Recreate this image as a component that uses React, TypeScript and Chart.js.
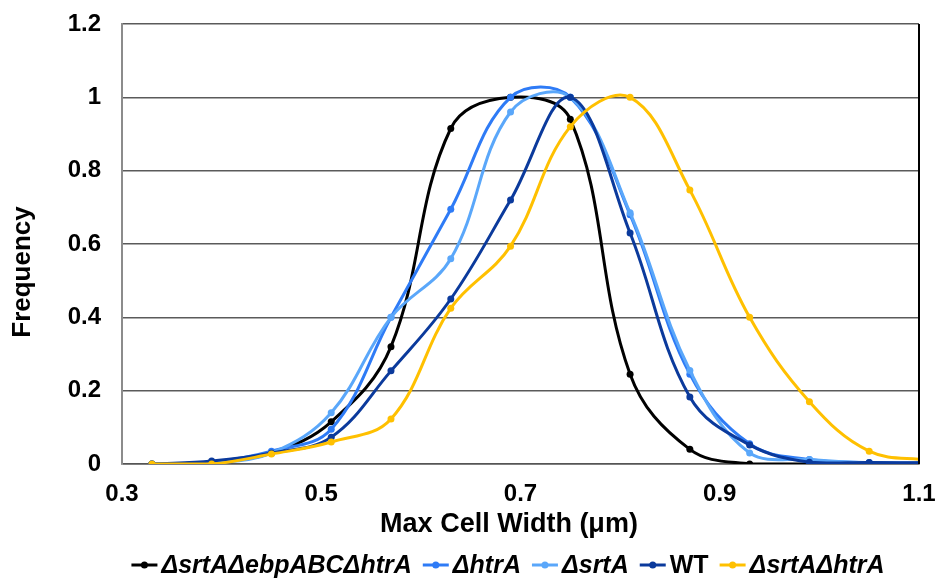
import React, { useEffect, useRef } from "react";
import { Chart, registerables } from "chart.js";

Chart.register(...registerables);

const xValues = [0.33, 0.39, 0.45, 0.51, 0.57, 0.63, 0.69, 0.75, 0.81, 0.87, 0.93, 0.99, 1.05, 1.11];
const xTicks = [0.3, 0.5, 0.7, 0.9, 1.1];
const yTicks = [0, 0.2, 0.4, 0.6, 0.8, 1, 1.2];

const xTitle = "Max Cell Width (μm)";
const yTitle = "Frequency";

const seriesNames = ["ΔsrtAΔebpABCΔhtrA", "ΔhtrA", "ΔsrtA", "WT", "ΔsrtAΔhtrA"];
const seriesColors = ["#000000", "#2E7BF6", "#5AA7FA", "#0B3A9C", "#FFC000"];
const seriesItalic = [true, true, true, false, true];

const tripleMutant = [0, 0.005, 0.03, 0.115, 0.32, 0.915, 1.0, 0.94, 0.245, 0.04, 0.0, 0.0];
const htrA = [0, 0.005, 0.035, 0.095, 0.4, 0.695, 1.0, 1.0, 0.68, 0.245, 0.055, 0.012, 0.004, 0.003];
const srtA = [0, 0.003, 0.03, 0.14, 0.4, 0.56, 0.96, 1.0, 0.685, 0.255, 0.03, 0.012, 0.003, 0.002];
const wt = [0, 0.008, 0.03, 0.073, 0.254, 0.45, 0.72, 1.0, 0.63, 0.183, 0.052, 0.005, 0.004, 0.003];
const srtAhtrA = [0, 0, 0.027, 0.06, 0.123, 0.425, 0.594, 0.92, 1.0, 0.747, 0.4, 0.17, 0.035, 0.01];

const allSeries = [tripleMutant, htrA, srtA, wt, srtAhtrA];

const FONT = '"Liberation Sans", Arial, sans-serif';

const legendPlugin = {
  id: "customLegend",
  afterDraw(chart: any) {
    const ctx = chart.ctx;
    const y = 565;
    const markerW = 26;
    const markerGap = 4;
    const itemGap = 11;
    const fonts = seriesItalic.map((it) => `${it ? "italic " : ""}bold 25px ${FONT}`);
    const widths = seriesNames.map((n, i) => {
      ctx.font = fonts[i];
      return ctx.measureText(n).width;
    });
    const total = widths.reduce((a, w) => a + markerW + markerGap + w, 0) + itemGap * (seriesNames.length - 1);
    let x = 508 - total / 2;
    ctx.save();
    ctx.textBaseline = "middle";
    ctx.textAlign = "left";
    seriesNames.forEach((name, i) => {
      ctx.strokeStyle = seriesColors[i];
      ctx.fillStyle = seriesColors[i];
      ctx.lineWidth = 3;
      ctx.beginPath();
      ctx.moveTo(x, y);
      ctx.lineTo(x + markerW, y);
      ctx.stroke();
      ctx.beginPath();
      ctx.arc(x + markerW / 2, y, 3.5, 0, Math.PI * 2);
      ctx.fill();
      x += markerW + markerGap;
      ctx.fillStyle = "#000";
      ctx.font = fonts[i];
      ctx.fillText(name, x, y + 1);
      x += widths[i] + itemGap;
    });
    ctx.restore();
  },
};

const titlesPlugin = {
  id: "axisTitles",
  afterDraw(chart: any) {
    const ctx = chart.ctx;
    ctx.save();
    ctx.fillStyle = "#000";
    ctx.textAlign = "center";
    ctx.textBaseline = "middle";
    ctx.font = `bold 27px ${FONT}`;
    ctx.fillText(xTitle, 509, 525);
    ctx.translate(23, 272);
    ctx.rotate(-Math.PI / 2);
    ctx.font = `bold 26px ${FONT}`;
    ctx.fillText(yTitle, 0, 0);
    ctx.restore();
  },
};

const rightBorderPlugin = {
  id: "rightBorder",
  afterDatasetsDraw(chart: any) {
    const { ctx, chartArea } = chart;
    ctx.save();
    ctx.strokeStyle = "#000";
    ctx.lineWidth = 2;
    ctx.beginPath();
    ctx.moveTo(chartArea.right, chartArea.top);
    ctx.lineTo(chartArea.right, chartArea.bottom);
    ctx.stroke();
    ctx.restore();
  },
};

export default function App() {
  const ref = useRef<HTMLCanvasElement | null>(null);

  useEffect(() => {
    if (!ref.current) return;
    const datasets = allSeries.map((vals, i) => ({
      label: seriesNames[i],
      data: vals.map((v, k) => ({ x: xValues[k], y: v })),
      borderColor: seriesColors[i],
      backgroundColor: seriesColors[i],
      borderWidth: 3,
      pointRadius: 3.5,
      pointBorderWidth: 0,
      pointBackgroundColor: seriesColors[i],
      tension: 0.38,
      fill: false,
      order: seriesNames.length - 1 - i,
    }));
    const chart = new Chart(ref.current, {
      type: "line",
      data: { datasets },
      options: {
        animation: false,
        responsive: false,
        devicePixelRatio: 1,
        layout: { padding: { left: 0, top: 24, right: 19, bottom: 38 } },
        plugins: { legend: { display: false }, tooltip: { enabled: false } },
        scales: {
          x: {
            type: "linear",
            min: 0.3,
            max: 1.1,
            afterBuildTicks: (scale: any) => {
              scale.ticks = xTicks.map((v) => ({ value: v }));
            },
            afterFit: (scale: any) => {
              scale.height = 76;
              scale.paddingLeft = 0;
              scale.paddingRight = 0;
            },
            grid: { display: false, drawTicks: false },
            border: { display: true, color: "#555", width: 1.5 },
            ticks: {
              padding: 16,
              color: "#000",
              font: { family: FONT, size: 24, weight: "bold" },
              callback: (v: any) => String(Math.round(Number(v) * 10) / 10),
              maxRotation: 0,
            },
            title: { display: false },
          },
          y: {
            type: "linear",
            min: 0,
            max: 1.2,
            afterBuildTicks: (scale: any) => {
              scale.ticks = yTicks.map((v) => ({ value: v }));
            },
            afterFit: (scale: any) => {
              scale.width = 122;
              scale.paddingTop = 0;
              scale.paddingBottom = 0;
            },
            grid: { color: "#5a5a5a", lineWidth: 1.5, drawTicks: false },
            border: { display: true, color: "#8c8c8c", width: 2 },
            ticks: {
              padding: 21,
              color: "#000",
              font: { family: FONT, size: 24, weight: "bold" },
              callback: (v: any) => String(Math.round(Number(v) * 10) / 10),
            },
            title: { display: false },
          },
        },
      },
      plugins: [rightBorderPlugin, titlesPlugin, legendPlugin],
    } as any);
    return () => chart.destroy();
  }, []);

  return (
    <div style={{ position: "fixed", left: 0, top: 0, width: 938, height: 578, background: "#fff" }}>
      <canvas ref={ref} width={938} height={578} style={{ width: 938, height: 578 }} />
    </div>
  );
}
